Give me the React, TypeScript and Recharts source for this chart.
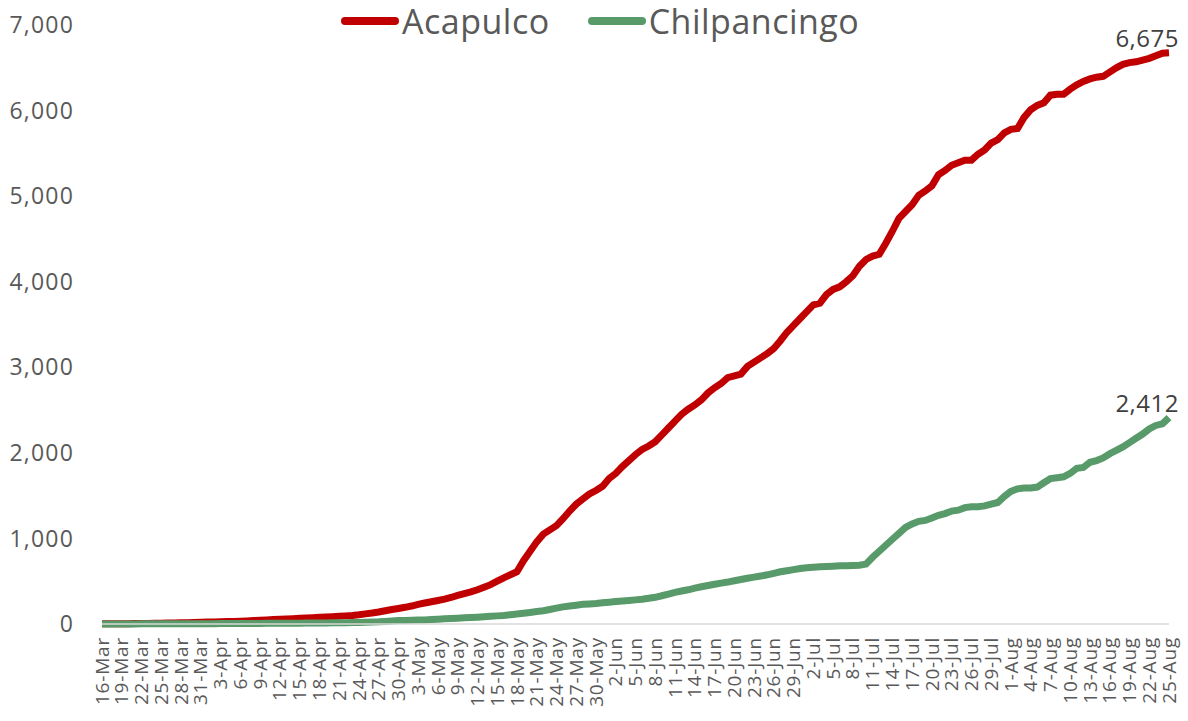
import React from "react"
import { LineChart, Line, XAxis, YAxis } from "recharts"

// months in the series and how many days of each are present
const monthNames = ["Mar", "Apr", "May", "Jun", "Jul", "Aug"]
const monthStart = [16, 1, 1, 1, 1, 1]
const monthEnd = [31, 30, 31, 30, 31, 25]

const acapulco = [
    // Mar 16-31
    2, 2, 3, 3, 4, 5, 6, 7, 8, 10, 11, 13, 14, 16, 18, 20,
    // Apr
    22, 24, 26, 28, 30, 33, 36, 40, 44, 48, 52, 55, 58, 62, 66, 70, 74, 78, 82, 86,
    90, 95, 100, 108, 118, 128, 140, 155, 170, 182,
    // May
    195, 210, 230, 245, 260, 275, 290, 310, 335, 355, 375, 400, 430, 460, 500, 540,
    575, 610, 740, 850, 960, 1050, 1100, 1150, 1230, 1320, 1400, 1460, 1520, 1560, 1610,
    // Jun
    1700, 1760, 1840, 1910, 1980, 2040, 2080, 2130, 2210, 2290, 2370, 2450, 2510, 2560, 2620,
    2700, 2760, 2810, 2880, 2900, 2920, 3010, 3060, 3110, 3160, 3220, 3310, 3410, 3490, 3570,
    // Jul
    3650, 3730, 3750, 3850, 3910, 3940, 4000, 4070, 4180, 4260, 4300, 4320, 4450, 4590, 4740,
    4820, 4900, 5010, 5060, 5120, 5250, 5300, 5360, 5390, 5420, 5420, 5490, 5540, 5620, 5660, 5740,
    // Aug 1-25
    5780, 5790, 5920, 6010, 6060, 6090, 6180, 6190, 6190, 6250, 6300, 6340, 6370, 6390, 6400,
    6450, 6500, 6540, 6560, 6570, 6590, 6610, 6640, 6670, 6675,
]

const chilpancingo = [
    // Mar 16-31
    1, 1, 1, 1, 1, 1, 2, 2, 2, 2, 3, 3, 3, 3, 4, 4,
    // Apr
    4, 4, 5, 5, 5, 6, 6, 7, 7, 8, 8, 9, 9, 10, 10, 11, 12, 12, 13, 14, 15, 16, 17, 18, 20,
    22, 25, 30, 35, 40,
    // May
    42, 44, 46, 48, 52, 56, 60, 64, 68, 72, 76, 80, 85, 90, 95, 100, 108, 116, 125, 135, 145,
    155, 170, 185, 200, 210, 220, 230, 235, 240, 248,
    // Jun
    255, 262, 268, 275, 282, 290, 300, 312, 330, 350, 370, 385, 400, 420, 435, 450, 465, 478,
    490, 505, 520, 535, 548, 560, 575, 592, 610, 622, 635, 648,
    // Jul
    658, 664, 668, 672, 676, 680, 682, 684, 686, 700, 780, 850, 920, 990, 1060, 1130, 1170,
    1200, 1210, 1240, 1270, 1290, 1320, 1330, 1360, 1370, 1370, 1380, 1400, 1420, 1490,
    // Aug 1-25
    1550, 1580, 1590, 1590, 1600, 1650, 1700, 1710, 1720, 1760, 1820, 1830, 1890, 1910, 1940,
    1990, 2030, 2070, 2120, 2170, 2220, 2280, 2320, 2340, 2412,
]

const yTicks = [0, 1000, 2000, 3000, 4000, 5000, 6000, 7000]

const dates: string[] = []
monthNames.forEach((m, i) => {
    for (let d = monthStart[i]; d <= monthEnd[i]; d++) dates.push(`${d}-${m}`)
})

const data = dates.map((date, i) => ({
    date,
    Acapulco: acapulco[i],
    Chilpancingo: chilpancingo[i],
}))

const FONT = "'Open Sans', sans-serif"
const RED = "#C00000"
const GREEN = "#589A69"
const last = data.length - 1

const fmt = (v: number) => v.toLocaleString("en-US")

function DateTick({ x, y, payload }: any) {
    return (
        <text
            x={x}
            y={y + 5}
            transform={`rotate(-90, ${x}, ${y + 5})`}
            textAnchor="end"
            dy="0.35em"
            fontSize={19}
            letterSpacing={0.8}
            fill="#595959"
            fontFamily={FONT}
        >
            {payload.value}
        </text>
    )
}

const endLabel = (props: any) => {
    const { x, y, index, value } = props
    if (index !== last) return null
    return (
        <text
            x={x + 10}
            y={y - 6}
            textAnchor="end"
            fontSize={24}
            letterSpacing={0.5}
            fill="#404040"
            fontFamily={FONT}
        >
            {fmt(value)}
        </text>
    )
}

export default function App() {
    return (
        <div style={{ position: "relative", width: 1188, height: 721 }}>
            <style>{"body{margin:0}"}</style>
            <LineChart
                width={1188}
                height={721}
                data={data}
                margin={{ top: 25, right: 19, left: 0, bottom: 0 }}
            >
                <XAxis
                    dataKey="date"
                    interval={2}
                    height={97}
                    tick={<DateTick />}
                    tickLine={false}
                    axisLine={{ stroke: "#D9D9D9", strokeWidth: 1.5 }}
                />
                <YAxis
                    domain={[0, 7000]}
                    ticks={yTicks}
                    width={102}
                    tickFormatter={fmt}
                    axisLine={false}
                    tickLine={false}
                    tickMargin={22}
                    tick={{ fontSize: 23, fill: "#595959", fontFamily: FONT, letterSpacing: 1.2 }}
                />
                <Line
                    dataKey="Acapulco"
                    stroke={RED}
                    strokeWidth={7}
                    dot={false}
                    isAnimationActive={false}
                    label={endLabel}
                />
                <Line
                    dataKey="Chilpancingo"
                    stroke={GREEN}
                    strokeWidth={7}
                    dot={false}
                    isAnimationActive={false}
                    label={endLabel}
                />
            </LineChart>
            <div
                style={{
                    position: "absolute",
                    top: 3,
                    left: 341,
                    display: "flex",
                    gap: 38,
                    fontFamily: FONT,
                    fontSize: 34,
                    letterSpacing: 0.5,
                    color: "#595959",
                    lineHeight: "36px",
                }}
            >
                {[
                    ["Acapulco", RED],
                    ["Chilpancingo", GREEN],
                ].map(([name, color]) => (
                    <div key={name} style={{ display: "flex", alignItems: "center" }}>
                        <span
                            style={{
                                display: "inline-block",
                                width: 58,
                                height: 8,
                                borderRadius: 4,
                                background: color,
                                marginRight: 3,
                            }}
                        />
                        {name}
                    </div>
                ))}
            </div>
        </div>
    )
}
